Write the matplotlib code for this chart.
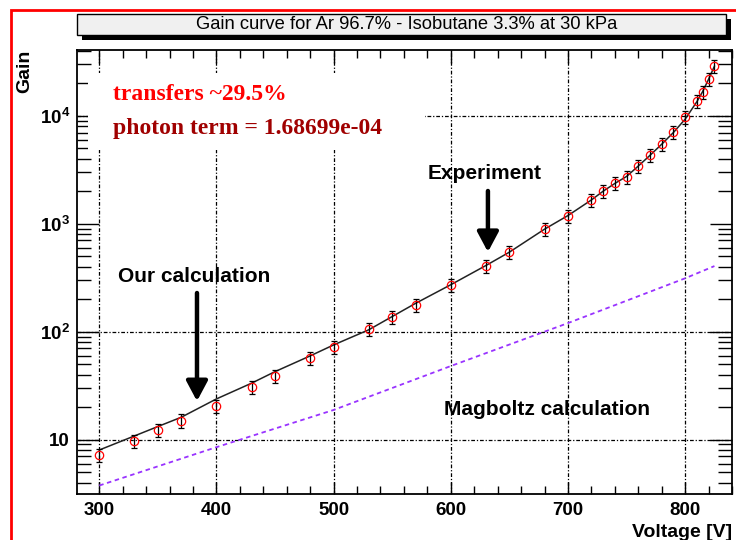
import numpy as np
import matplotlib
matplotlib.use('Agg')
import matplotlib.pyplot as plt
from matplotlib.patches import Rectangle
from matplotlib.ticker import MultipleLocator, LogLocator, FixedLocator, NullFormatter

plt.rcParams['font.family'] = 'Liberation Sans'
plt.rcParams['mathtext.fontset'] = 'custom'
plt.rcParams['mathtext.rm'] = 'Liberation Sans'
plt.rcParams['mathtext.bf'] = 'Liberation Sans:bold'

# experiment
volt = [300, 330, 350, 370, 400, 430, 450, 480, 500, 530, 550, 570, 600, 630, 650,
        680, 700, 720, 730, 740, 750, 760, 770, 780, 790, 800, 810, 815, 820, 825]
gain = [7.2, 9.7, 12.3, 15.0, 20.6, 30.5, 39, 56.6, 71.7, 105, 136, 177, 270, 408, 543,
        893, 1186, 1656, 2010, 2366, 2722, 3444, 4326, 5470, 7015, 9660, 13680, 16670, 21860, 28860]
rel_err = 0.14

# our calculation
calc = [8.0, 10.8, 13.2, 16.1, 23.8, 33.3, 42.6, 59.6, 75.3, 104, 138, 183, 272, 410, 545,
        890, 1190, 1660, 2000, 2360, 2740, 3420, 4300, 5450, 7000, 9300, 13500, 16800, 21800, 28800]

# magboltz
volt_mb = [300, 400, 500, 600, 700, 800, 825]
gain_mb = [3.75, 8.5, 18.8, 48, 120, 312, 405]

W, H = 736, 540
fig = plt.figure(figsize=(W/100, H/100), dpi=100)
ax = fig.add_axes([77/W, (H-494)/H, 655/W, 444/H])

ax.set_xscale('linear')
ax.set_yscale('log')
ax.set_xlim(281, 840)
ax.set_ylim(3.13, 40700)

gstyle = (0, (3, 1.5, 1, 1.5))
for v in [300, 400, 500, 600, 700, 800]:
    ax.axvline(v, color='black', lw=0.9, ls=gstyle, zorder=1)
for g in [10, 100, 10000]:
    ax.axhline(g, color='black', lw=0.9, ls=gstyle, zorder=1)

# white pave behind the text
ax.add_patch(Rectangle((0.017, 0.775), 0.514, 0.173, transform=ax.transAxes,
                       facecolor='white', edgecolor='none', zorder=2))

ax.plot(volt_mb, gain_mb, color='#9933ff', lw=1.3, ls=(0, (2.5, 2)), zorder=3)
ax.plot(volt, calc, color='#222222', lw=1.1, zorder=4)
g = np.array(gain)
ax.errorbar(volt, gain, yerr=rel_err*g, fmt='none', ecolor='black', elinewidth=0.9,
            capsize=2.5, capthick=0.9, zorder=5)
ax.plot(volt, gain, 'o', mfc='none', mec='red', ms=6, mew=0.9, zorder=6)

ax.xaxis.set_major_locator(MultipleLocator(100))
ax.xaxis.set_minor_locator(MultipleLocator(20))
ax.yaxis.set_major_locator(FixedLocator([10, 100, 1000, 10000]))
ax.yaxis.set_minor_locator(LogLocator(base=10, subs=np.arange(2, 10)))
ax.yaxis.set_minor_formatter(NullFormatter())
ax.set_yticklabels(['10', r'$\mathbf{10^{2}}$', r'$\mathbf{10^{3}}$', r'$\mathbf{10^{4}}$'])

ax.tick_params(axis='x', which='major', direction='in', length=9, width=1, top=True,
               labelsize=13.5, pad=6)
ax.tick_params(axis='x', which='minor', direction='in', length=6, width=1, top=True)
ax.tick_params(axis='y', which='major', direction='in', length=16, width=1, right=True,
               labelsize=13.5, pad=5)
ax.tick_params(axis='y', which='minor', direction='in', length=10, width=1, right=True)
for lab in ax.get_xticklabels() + ax.get_yticklabels():
    lab.set_fontweight('bold')
for s in ax.spines.values():
    s.set_linewidth(1.3)

ax.text(0.055, 0.899, 'transfers ~29.5%', transform=ax.transAxes, color='#ff0000',
        family='Liberation Serif', weight='bold', fontsize=17, va='center', zorder=7)
ax.text(0.055, 0.824, 'photon term = 1.68699e-04', transform=ax.transAxes, color='#a00000',
        family='Liberation Serif', weight='bold', fontsize=17, va='center', zorder=7)

ax.text(380.7, 321, 'Our calculation', ha='center', va='center', weight='bold', fontsize=15, zorder=7)
ax.text(629, 2950, 'Experiment', ha='center', va='center', weight='bold', fontsize=15, zorder=7)
ax.text(682, 18.8, 'Magboltz calculation', ha='center', va='center', weight='bold', fontsize=15, zorder=7)

arrow = dict(arrowstyle='-|>,head_length=0.6,head_width=0.32', lw=3.2, color='black',
             shrinkA=0, shrinkB=0, mutation_scale=20)
ax.annotate('', xy=(383.4, 22.7), xytext=(383.4, 228), arrowprops=arrow, zorder=7)
ax.annotate('', xy=(631.7, 547), xytext=(631.7, 2010), arrowprops=arrow, zorder=7)

# title box with shadow
fig.patches.append(Rectangle((82/W, (H-40)/H), 649/W, 21/H, transform=fig.transFigure,
                             facecolor='black', edgecolor='none'))
fig.patches.append(Rectangle((77/W, (H-35)/H), 649/W, 21/H, transform=fig.transFigure,
                             facecolor='#f0f0f0', edgecolor='black', lw=1))
fig.text(407/W, 1-24.5/H, 'Gain curve for Ar 96.7% - Isobutane 3.3% at 30 kPa',
         ha='center', va='center', fontsize=13.2)

fig.text(732/W, 3/H, 'Voltage [V]', ha='right', va='baseline', weight='bold', fontsize=14)
fig.text(25/W, 1-50/H, 'Gain', rotation=90, ha='center', va='top', weight='bold', fontsize=14)

# red frame
fig.patches.append(Rectangle((10.5/W, -0.1), 1.2, 1.1 - 10.5/H, transform=fig.transFigure,
                             fill=False, edgecolor='red', lw=2))

fig.savefig('out.png', dpi=100)
